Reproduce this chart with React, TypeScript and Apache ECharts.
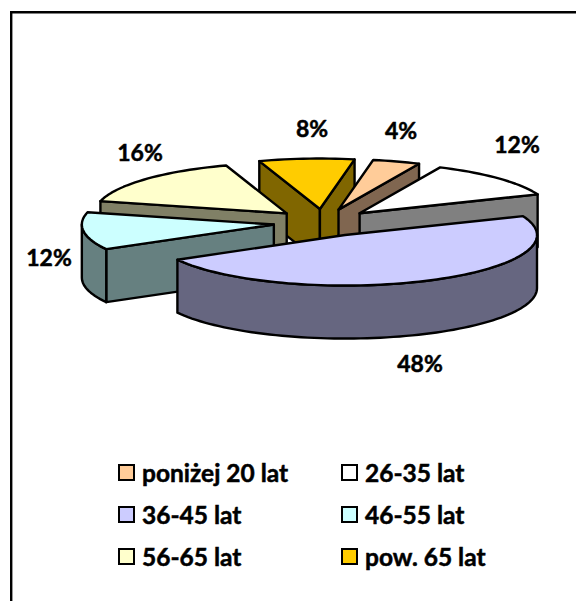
import React, { useEffect, useRef } from "react";
import * as echarts from "echarts";

const categories = ["poniżej 20 lat", "26-35 lat", "36-45 lat", "46-55 lat", "56-65 lat", "pow. 65 lat"];
const counts = [1, 3, 12, 3, 4, 2];
const topColors = ["#FFCC99", "#FFFFFF", "#CCCCFF", "#CCFFFF", "#FFFFCC", "#FFCC00"];
const wallColors = ["#806650", "#808080", "#666680", "#668080", "#808066", "#806600"];
const legendColumns = [[0, 2, 4], [1, 3, 5]];

// Layout of the tilted pie, in pixels of the 576x601 page.
const WIDTH = 576;
const HEIGHT = 601;
const FONT = "Lato, Carlito, Calibri, sans-serif";
const CX = 323.4;
const CY = 222.7;
const RX = 192;
const RY = 50.5;
const DEPTH = 53;
const EXPLODE_X = 50;
const EXPLODE_Y = 13.7;
const FIRST_ANGLE = 10.4;
const LABEL_CENTRES: [number, number][] = [
  [401, 130], [517, 144], [420, 363], [49, 257], [140, 152], [312, 128],
];

const total = counts.reduce((a, b) => a + b, 0);
const starts: number[] = [];
counts.reduce((acc, v, i) => {
  starts[i] = acc;
  return acc + (v / total) * 360;
}, FIRST_ANGLE);

const rad = (d: number) => (d * Math.PI) / 180;

function arcPoints(ax: number, ay: number, from: number, to: number, dy = 0) {
  const pts: number[][] = [];
  const n = Math.max(2, Math.ceil(Math.abs(to - from) / 2));
  for (let k = 0; k <= n; k++) {
    const t = rad(from + ((to - from) * k) / n);
    pts.push([ax + RX * Math.sin(t), ay - RY * Math.cos(t) + dy]);
  }
  return pts;
}

function renderSlice(index: number) {
  const from = starts[index];
  const to = from + (counts[index] / total) * 360;
  const mid = rad((from + to) / 2);
  const ax = CX + EXPLODE_X * Math.sin(mid);
  const ay = CY - EXPLODE_Y * Math.cos(mid);
  const z = Math.round(ay * 100) * 10;
  const stroke = { stroke: "#000", lineWidth: 2.4, lineJoin: "round" as const };
  const walls: any[] = [];
  const wall = (points: number[][]) =>
    walls.push({
      type: "polygon",
      z2: z,
      shape: { points },
      style: { fill: wallColors[index], ...stroke },
    });
  const corner = (deg: number) => [ax + RX * Math.sin(rad(deg)), ay - RY * Math.cos(rad(deg))];
  // radial walls facing the viewer: the outward normal points away from the slice
  [
    [from, from - 90],
    [to, to + 90],
  ].forEach(([edge, normal]) => {
    if (Math.cos(rad(normal)) < 0) {
      const c = corner(edge);
      wall([[ax, ay], c, [c[0], c[1] + DEPTH], [ax, ay + DEPTH]]);
    }
  });
  // rim wall on the front half
  const rimFrom = Math.max(from, 90);
  const rimTo = Math.min(to, 270);
  if (rimTo > rimFrom) {
    wall([
      ...arcPoints(ax, ay, rimFrom, rimTo),
      ...arcPoints(ax, ay, rimFrom, rimTo, DEPTH).reverse(),
    ]);
  }
  const top = {
    type: "polygon",
    z2: z + 1,
    shape: { points: [[ax, ay], ...arcPoints(ax, ay, from, to)] },
    style: { fill: topColors[index], ...stroke },
  };
  const [lx, ly] = LABEL_CENTRES[index];
  const label = {
    type: "text",
    z2: 100000,
    x: lx,
    y: ly,
    style: {
      text: `${Math.round((counts[index] / total) * 100)}%`,
      font: `bold 23px ${FONT}`,
      fill: "#000",
      stroke: "#000",
      lineWidth: 0.5,
      align: "center",
      verticalAlign: "middle",
    },
  };
  return { type: "group", children: [...walls, top, label] };
}

export default function App() {
  const ref = useRef<HTMLDivElement>(null);
  useEffect(() => {
    const chart = echarts.init(ref.current!, undefined, { renderer: "svg" });
    chart.setOption({
      animation: false,
      backgroundColor: "#fff",
      legend: legendColumns.map((col, c) => ({
        orient: "vertical",
        left: c === 0 ? 118 : 341,
        top: 459,
        itemWidth: 15,
        itemHeight: 15,
        itemGap: 15,
        selectedMode: false,
        textStyle: {
          fontFamily: FONT,
          fontWeight: "bold",
          fontSize: 24.5,
          lineHeight: 27,
          color: "#000",
          textBorderColor: "#000",
          textBorderWidth: 0.5,
          padding: [0, 0, 0, 3],
        },
        padding: 0,
        data: col.map((i) => ({
          name: categories[i],
          icon: "rect",
          itemStyle: { color: topColors[i], borderColor: "#000", borderWidth: 2 },
        })),
      })),
      graphic: [
        { type: "line", shape: { x1: 11.2, y1: 12.2, x2: 11.2, y2: HEIGHT }, style: { stroke: "#000", lineWidth: 2.4 } },
        { type: "line", shape: { x1: 10, y1: 12.2, x2: WIDTH, y2: 12.2 }, style: { stroke: "#000", lineWidth: 2.4 } },
      ],
      series: categories.map((name, i) => ({
        type: "custom",
        name,
        coordinateSystem: "none",
        silent: true,
        itemStyle: { color: topColors[i] },
        data: [counts[i]],
        renderItem: () => renderSlice(i),
      })),
    });
    return () => chart.dispose();
  }, []);
  return (
    <div
      ref={ref}
      style={{ position: "fixed", left: 0, top: 0, width: WIDTH, height: HEIGHT }}
    />
  );
}
